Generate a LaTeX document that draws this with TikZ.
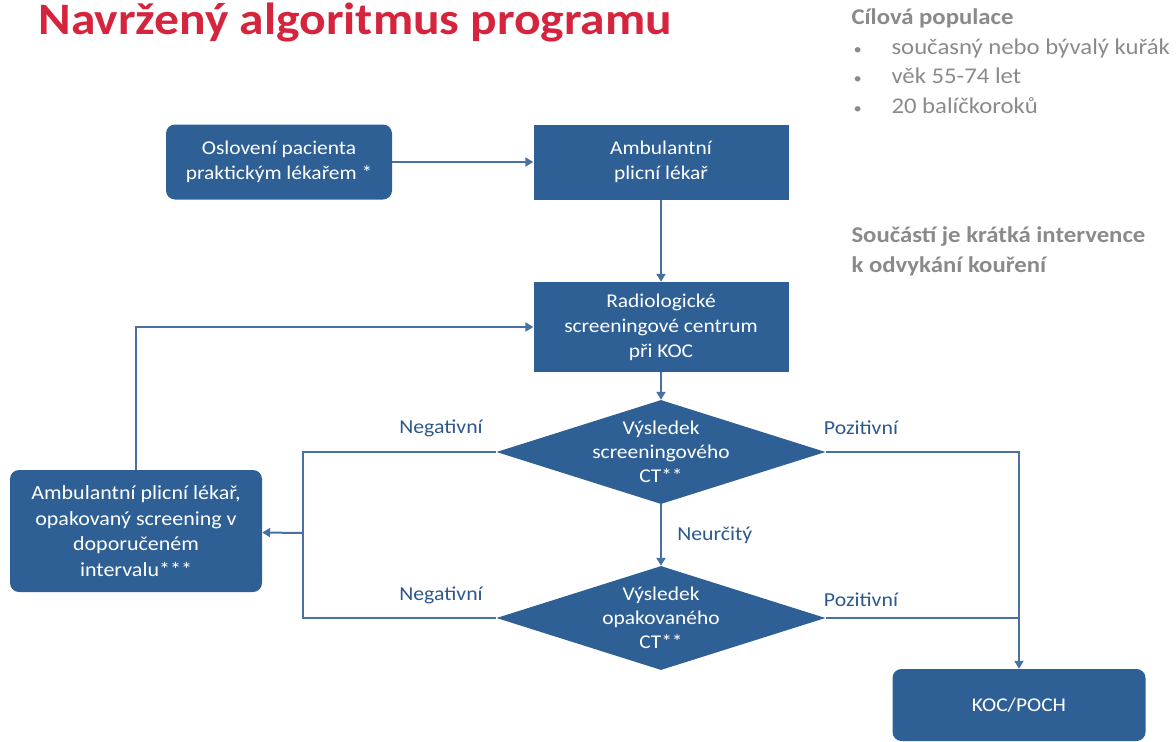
\documentclass[tikz,border=0pt]{standalone}
\usepackage{fontspec}
\setmainfont{Carlito}[FakeStretch=1.1]
\usepackage{tikz}
\usetikzlibrary{arrows.meta,shapes}
\definecolor{boxblue}{RGB}{46,96,150}
\definecolor{lineblue}{RGB}{72,112,162}
\definecolor{labblue}{RGB}{45,88,140}
\definecolor{titlered}{RGB}{213,37,62}
\definecolor{infogray}{RGB}{138,138,138}

\begin{document}
\begin{tikzpicture}[
  box/.style={fill=boxblue,text=white,align=center,font=\fontsize{19.5bp}{25bp}\selectfont},
  rbox/.style={box,rounded corners=9bp},
  dec/.style={diamond,fill=boxblue,inner sep=0pt,minimum width=329bp,minimum height=104bp},
  dectext/.style={text=white,align=center,font=\fontsize{19.5bp}{24bp}\selectfont},
  lab/.style={text=labblue,font=\fontsize{19.8bp}{22bp}\selectfont},
  info/.style={text=infogray,anchor=base west,font=\fontsize{22.5bp}{26bp}\selectfont},
  flow/.style={lineblue,line width=2bp},
  arr/.style={flow,-{Triangle[length=8bp,width=9bp]}}]
\useasboundingbox (0bp,0bp) rectangle (1176bp,-742bp);

% title and notes
\node (title) at (35bp,-34bp)[anchor=base west,text=titlered,font=\fontsize{45bp}{48bp}\selectfont\bfseries] {Navržený algoritmus programu};
\node (pop) at (848bp,-24bp)[info,font=\fontsize{22.5bp}{26bp}\selectfont\bfseries] {Cílová populace};
\node (b1) at (850bp,-54bp)[info,font=\fontsize{15bp}{18bp}\selectfont] {•};
\node (b2) at (850bp,-83bp)[info,font=\fontsize{15bp}{18bp}\selectfont] {•};
\node (b3) at (850bp,-113bp)[info,font=\fontsize{15bp}{18bp}\selectfont] {•};
\node (p1) at (888bp,-54bp)[info] {současný nebo bývalý kuřák};
\node (p2) at (888bp,-83bp)[info] {věk 55-74 let};
\node (p3) at (888bp,-113bp)[info] {20 balíčkoroků};
\node (int1) at (848bp,-242bp)[info,font=\fontsize{22.5bp}{26bp}\selectfont\bfseries] {Součástí je krátká intervence};
\node (int2) at (848bp,-272bp)[info,font=\fontsize{22.5bp}{26bp}\selectfont\bfseries] {k odvykání kouření};

% boxes
\node (osl) at (279bp,-162bp)[rbox,minimum width=226bp,minimum height=75bp] {Oslovení pacienta\\praktickým lékařem *};
\node (amb) at (661bp,-162bp)[box,minimum width=255bp,minimum height=75bp] {Ambulantní\\plicní lékař};
\node (rad) at (661bp,-327bp)[box,minimum width=255bp,minimum height=90bp] {Radiologické\\screeningové centrum\\při KOC};
\node (ct1) at (661bp,-452bp)[dec,label={[dectext]center:{Výsledek\\screeningového\\CT**}}] {};
\node (ct2) at (661bp,-618bp)[dec,label={[dectext]center:{Výsledek\\opakovaného\\CT**}}] {};
\node (rep) at (136bp,-531bp)[rbox,minimum width=252bp,minimum height=122bp,font=\fontsize{20bp}{25.5bp}\selectfont] {Ambulantní plicní lékař,\\opakovaný screening v\\doporučeném\\intervalu***};
\node (koc) at (1019bp,-705bp)[rbox,minimum width=253bp,minimum height=72bp] {KOC/POCH};
\coordinate (neg) at (303bp,-533bp);

% connectors
\draw [arr] (osl) -- (amb);
\draw [arr] (amb) -- (rad);
\draw [arr] (rad) -- (ct1);
\draw [arr] (ct1) -- node[lab,right=12bp] {Neurčitý} (ct2);
\draw [flow] (ct1.west) -| (neg) |- (ct2.west);
\draw [arr] (neg) -- (rep);
\draw [arr] (rep) |- (rad);
\draw [arr] (ct1.east) -| (koc);
\draw [flow] (ct2.east) -- (ct2.east -| koc.north);
\node (n1) at (441bp,-428bp)[lab] {Negativní};
\node (n2) at (441bp,-595bp)[lab] {Negativní};
\node (z1) at (861bp,-428bp)[lab] {Pozitivní};
\node (z2) at (861bp,-600bp)[lab] {Pozitivní};
\end{tikzpicture}
\end{document}
